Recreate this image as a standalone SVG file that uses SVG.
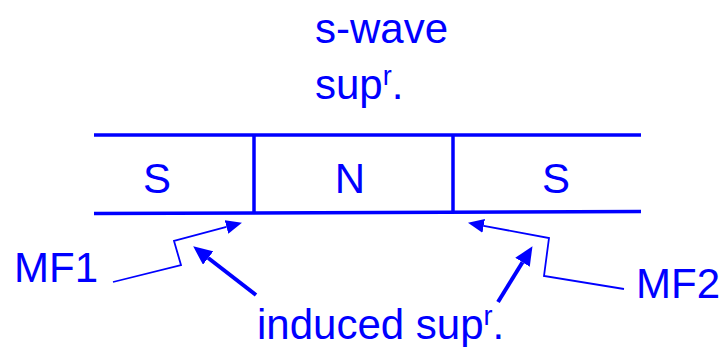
<svg xmlns="http://www.w3.org/2000/svg" width="728" height="347" viewBox="0 0 728 347">
<defs>
<style>
.t{font-family:"Liberation Sans",Arial,sans-serif;font-size:42px;fill:#0000FF}
.ln{stroke:#0000FF;stroke-width:3.5;fill:none}
.thin{stroke:#0000FF;stroke-width:1.8;fill:none}
.thick{stroke:#0000FF;stroke-width:4;fill:none}
</style>
<marker id="hThin" markerUnits="userSpaceOnUse" markerWidth="16" markerHeight="14" refX="0" refY="7" orient="auto"><path d="M0,0 L16,7 L0,14 Z" fill="#0000FF"/></marker>
<marker id="hThick" markerUnits="userSpaceOnUse" markerWidth="19" markerHeight="17" refX="0" refY="8.5" orient="auto"><path d="M0,0 L19,8.5 L0,17 Z" fill="#0000FF"/></marker>
</defs>
<rect width="728" height="347" fill="#FFFFFF"/>
<g id="title">
<text class="t" x="315" y="43">s-wave</text>
<text class="t" x="315" y="99">sup<tspan font-size="27" dy="-14">r</tspan><tspan dy="14">.</tspan></text>
</g>
<g id="junction">
<line class="ln" x1="94" y1="135" x2="641" y2="135"/>
<line class="ln" x1="94" y1="213.5" x2="641" y2="211.5"/>
<line class="ln" x1="254" y1="135" x2="254" y2="213"/>
<line class="ln" x1="453" y1="135" x2="453" y2="212"/>
</g>
<g id="S1"><text class="t" x="157" y="193" text-anchor="middle">S</text></g>
<g id="N"><text class="t" x="350" y="193" text-anchor="middle">N</text></g>
<g id="S2"><text class="t" x="556" y="193" text-anchor="middle">S</text></g>
<g id="MF1"><text class="t" x="14" y="282">MF1</text></g>
<g id="MF2"><text class="t" x="636" y="298">MF2</text></g>
<g id="induced"><text class="t" x="257" y="339">induced sup<tspan font-size="27" dy="-14">r</tspan><tspan dy="14">.</tspan></text></g>
<g id="connectors">
<polyline class="thin" points="113,282 181,265 174,241 226.5,226.9" marker-end="url(#hThin)"/>
<polyline class="thin" points="624,289 544,276 549,238 483.7,225.8" marker-end="url(#hThin)"/>
<line class="thick" x1="256" y1="295" x2="208.2" y2="258" marker-end="url(#hThick)"/>
<line class="thick" x1="498" y1="302" x2="522.5" y2="262.3" marker-end="url(#hThick)"/>
</g>
</svg>
